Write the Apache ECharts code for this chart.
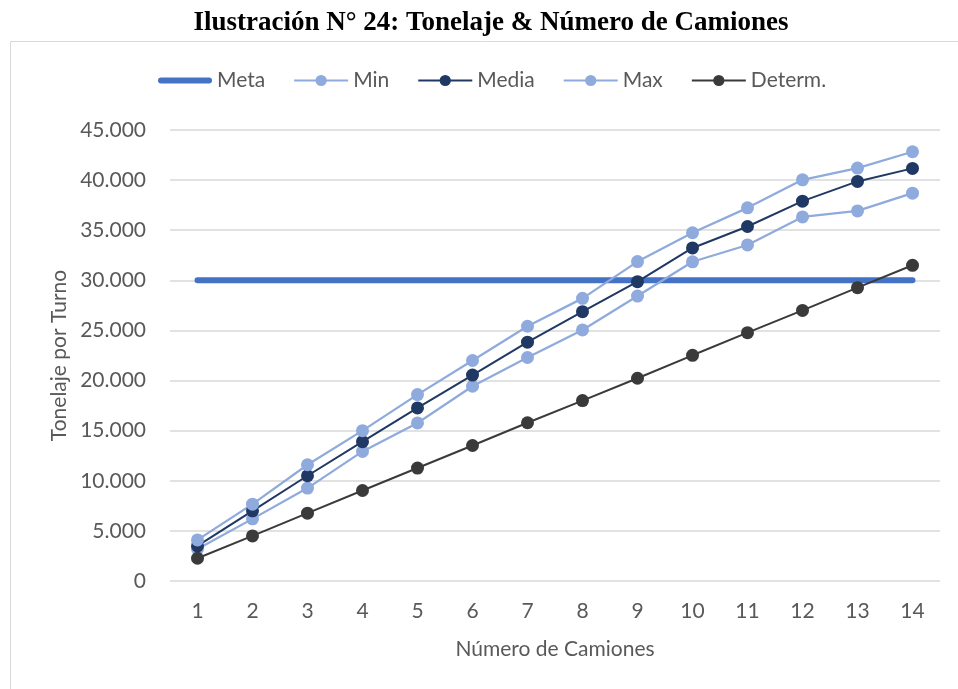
<!DOCTYPE html>
<html>
<head>
<meta charset="utf-8">
<title>Tonelaje & Número de Camiones</title>
<script src="https://cdn.jsdelivr.net/npm/echarts@6/dist/echarts.min.js"></script>
<style>
  html, body { margin: 0; padding: 0; background: #ffffff; }
  #chart { width: 958px; height: 689px; }
</style>
</head>
<body>
<div id="chart"></div>
<script>
// Número de camiones (eje X)
const camiones = ['1', '2', '3', '4', '5', '6', '7', '8', '9', '10', '11', '12', '13', '14'];

// Tonelaje por turno para cada escenario
const meta   = [30000, 30000, 30000, 30000, 30000, 30000, 30000, 30000, 30000, 30000, 30000, 30000, 30000, 30000];
const minimo = [3200, 6200, 9270, 12930, 15770, 19430, 22300, 25050, 28430, 31850, 33530, 36330, 36930, 38700];
const media  = [3500, 7000, 10500, 13900, 17270, 20550, 23830, 26870, 29870, 33230, 35370, 37900, 39870, 41170];
const maximo = [4100, 7670, 11600, 15000, 18600, 22000, 25420, 28200, 31870, 34750, 37230, 40030, 41200, 42830];
const determ = [2270, 4500, 6770, 9030, 11270, 13520, 15790, 18000, 20230, 22520, 24780, 27000, 29270, 31500];

// Marcas del eje Y
const yMin = 0, yMax = 45000, yStep = 5000;

const FONT = 'Lato';
const GRIS = '#595959';

// Icono de leyenda para la meta: barra gruesa con extremos redondeados
// (los dos "M" iniciales fijan la caja 54x14 para que no se estire en vertical)
const ICONO_META = 'path://M0,0M54,14M3,4L51,4A3,3,0,0,1,51,10L3,10A3,3,0,0,1,3,4Z';

const chart = echarts.init(document.getElementById('chart'), null, { renderer: 'canvas' });

function lineSeries(name, data, color, width) {
  return {
    name: name,
    type: 'line',
    data: data,
    symbol: 'circle',
    symbolSize: 13,
    lineStyle: { color: color, width: width },
    itemStyle: { color: color },
    emphasis: { disabled: true }
  };
}

chart.setOption({
  animation: false,
  graphic: [
    {
      type: 'rect',
      shape: { x: 10.5, y: 41.5, width: 1000, height: 700 },
      style: { fill: 'none', stroke: '#d9d9d9', lineWidth: 1 },
      silent: true,
      z: -10
    },
    {
      type: 'text',
      x: 491,
      y: 23,
      style: {
        text: 'Ilustración N° 24: Tonelaje & Número de Camiones',
        font: 'bold 27px "Liberation Serif", "Times New Roman", serif',
        fill: '#000000',
        textAlign: 'center',
        textVerticalAlign: 'middle'
      },
      silent: true
    }
  ],
  legend: {
    left: 158,
    top: 70,
    padding: 0,
    itemWidth: 54,
    itemHeight: 14,
    itemGap: 28,
    textStyle: { color: GRIS, fontFamily: FONT, fontSize: 21 },
    data: [
      { name: 'Meta', icon: ICONO_META },
      'Min', 'Media', 'Max', 'Determ.'
    ]
  },
  grid: { left: 170, right: 18, top: 130, bottom: 108, containLabel: false },
  xAxis: {
    type: 'category',
    data: camiones,
    boundaryGap: true,
    name: 'Número de Camiones',
    nameLocation: 'middle',
    nameGap: 58,
    nameTextStyle: { color: GRIS, fontFamily: FONT, fontSize: 21 },
    axisLine: { show: false },
    axisTick: { show: false },
    axisLabel: { color: GRIS, fontFamily: FONT, fontSize: 21, margin: 20 },
    splitLine: { show: false }
  },
  yAxis: {
    type: 'value',
    min: yMin,
    max: yMax,
    interval: yStep,
    name: 'Tonelaje por Turno',
    nameLocation: 'middle',
    nameGap: 100,
    nameTextStyle: { color: GRIS, fontFamily: FONT, fontSize: 21 },
    axisLine: { show: false },
    axisTick: { show: false },
    axisLabel: {
      color: GRIS,
      fontFamily: FONT,
      fontSize: 21,
      margin: 24,
      formatter: function (v) {
        return v === 0 ? '0' : v.toString().replace(/\B(?=(\d{3})+(?!\d))/g, '.');
      }
    },
    splitLine: { lineStyle: { color: '#d9d9d9', width: 1.5 } }
  },
  series: [
    {
      name: 'Meta',
      type: 'line',
      data: meta,
      symbol: 'none',
      lineStyle: { color: '#4472c4', width: 6, cap: 'round' },
      itemStyle: { color: '#4472c4' },
      emphasis: { disabled: true }
    },
    lineSeries('Min', minimo, '#8faadc', 2.25),
    lineSeries('Media', media, '#203864', 2),
    lineSeries('Max', maximo, '#8faadc', 2.25),
    lineSeries('Determ.', determ, '#3a3a3a', 2)
  ]
});
</script>
</body>
</html>
